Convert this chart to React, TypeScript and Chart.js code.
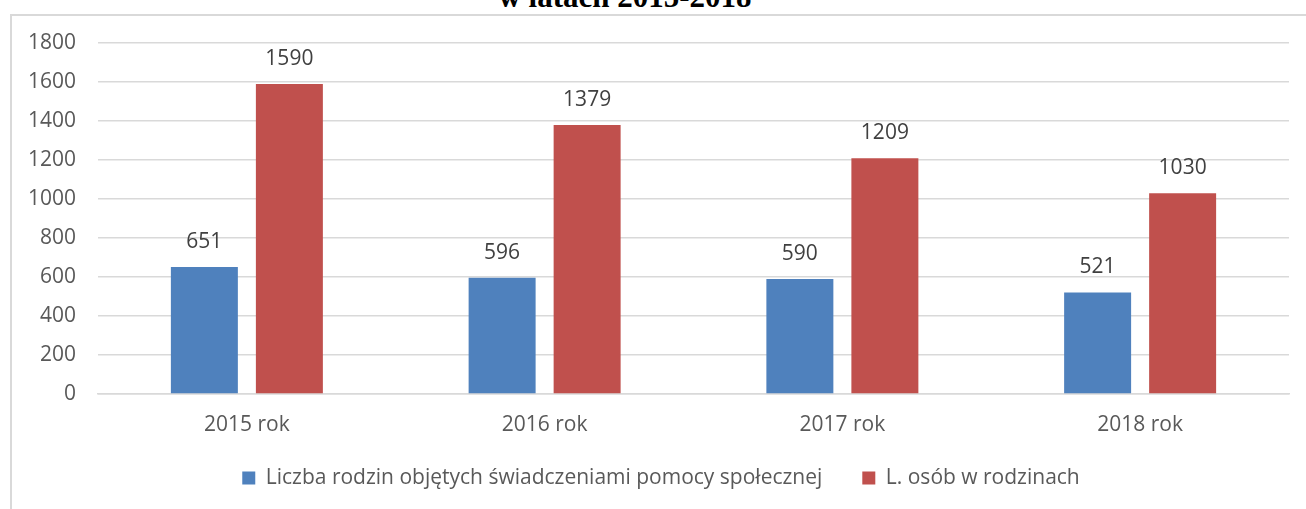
import React, { useEffect, useRef } from 'react';
import { Chart, registerables } from 'chart.js';

Chart.register(...registerables);

const titleText = 'w latach 2015-2018';
const categories = ['2015 rok', '2016 rok', '2017 rok', '2018 rok'];
const seriesNames = [
  'Liczba rodzin objętych świadczeniami pomocy społecznej',
  'L. osób w rodzinach',
];
const familiesValues = [651, 596, 590, 521];
const personsValues = [1590, 1379, 1209, 1030];
const seriesColors = ['#4F81BD', '#C0504D'];
const yMin = 0;
const yMax = 1800;
const yStep = 200;

const FONT = '"Open Sans", "Noto Sans", sans-serif';

const valueLabels = {
  id: 'valueLabels',
  afterDatasetsDraw(chart: any) {
    const ctx = chart.ctx;
    ctx.save();
    ctx.font = `21px ${FONT}`;
    ctx.fillStyle = '#404040';
    ctx.textAlign = 'center';
    ctx.textBaseline = 'middle';
    chart.data.datasets.forEach((ds: any, i: number) => {
      const meta = chart.getDatasetMeta(i);
      meta.data.forEach((bar: any, j: number) => {
        ctx.fillText(String(ds.data[j]), bar.x, bar.y - 25);
      });
    });
    ctx.restore();
  },
};

// Legend sits closer to the axis labels than Chart.js' symmetric padding allows
const legendShift = {
  id: 'legendShift',
  afterLayout(chart: any) {
    const lg = chart.legend;
    if (lg) {
      lg.top -= 8.5;
      lg.bottom -= 8.5;
      lg.left += 2.5;
      lg.right += 2.5;
    }
  },
};

export default function App() {
  const canvasRef = useRef<HTMLCanvasElement | null>(null);

  useEffect(() => {
    if (!canvasRef.current) return;
    const chart = new Chart(canvasRef.current, {
      type: 'bar',
      data: {
        labels: categories,
        datasets: [
          {
            label: seriesNames[0],
            data: familiesValues,
            backgroundColor: seriesColors[0],
            categoryPercentage: 0.571,
            barPercentage: 0.788,
          },
          {
            label: seriesNames[1],
            data: personsValues,
            backgroundColor: seriesColors[1],
            categoryPercentage: 0.571,
            barPercentage: 0.788,
          },
        ],
      },
      options: {
        animation: false,
        responsive: true,
        maintainAspectRatio: false,
        layout: { padding: { top: 43, left: 28, right: 17, bottom: 2 } },
        plugins: {
          title: { display: false },
          tooltip: { enabled: false },
          legend: {
            position: 'bottom',
            labels: {
              boxWidth: 13,
              boxHeight: 13,
              padding: 40,
              color: '#595959',
              font: { family: FONT, size: 21 },
            },
          },
        },
        scales: {
          x: {
            grid: { display: false, drawTicks: false },
            border: { display: true, color: '#D9D9D9', width: 1.5 },
            ticks: { color: '#595959', padding: 18, font: { family: FONT, size: 21 } },
            afterFit: (scale: any) => {
              scale.height = 42;
            },
          },
          y: {
            min: yMin,
            max: yMax,
            grid: { color: '#D9D9D9', lineWidth: 1.5, drawTicks: false },
            border: { display: false },
            ticks: {
              stepSize: yStep,
              color: '#595959',
              padding: 22,
              font: { family: FONT, size: 21 },
              callback: (v: any) => String(v),
            },
            afterFit: (scale: any) => {
              scale.width = 70;
            },
          },
        },
      },
      plugins: [valueLabels, legendShift],
    } as any);
    return () => chart.destroy();
  }, []);

  return (
    <div
      style={{
        position: 'fixed',
        left: 0,
        top: 0,
        width: 1306,
        height: 509,
        overflow: 'hidden',
        background: '#ffffff',
      }}
    >
      <div
        style={{
          position: 'absolute',
          left: 10,
          top: 14,
          width: 1320,
          height: 520,
          border: '2px solid #D9D9D9',
          boxSizing: 'border-box',
        }}
      />
      <div
        style={{
          position: 'absolute',
          left: 0,
          top: -19,
          width: 1250,
          textAlign: 'center',
          fontFamily: '"Liberation Serif", "Times New Roman", serif',
          fontWeight: 'bold',
          fontSize: 31,
          lineHeight: '31px',
          color: '#000',
          whiteSpace: 'nowrap',
        }}
      >
        {titleText}
      </div>
      <div style={{ position: 'absolute', left: 0, top: 0, width: 1306, height: 509 }}>
        <canvas ref={canvasRef} />
      </div>
    </div>
  );
}
